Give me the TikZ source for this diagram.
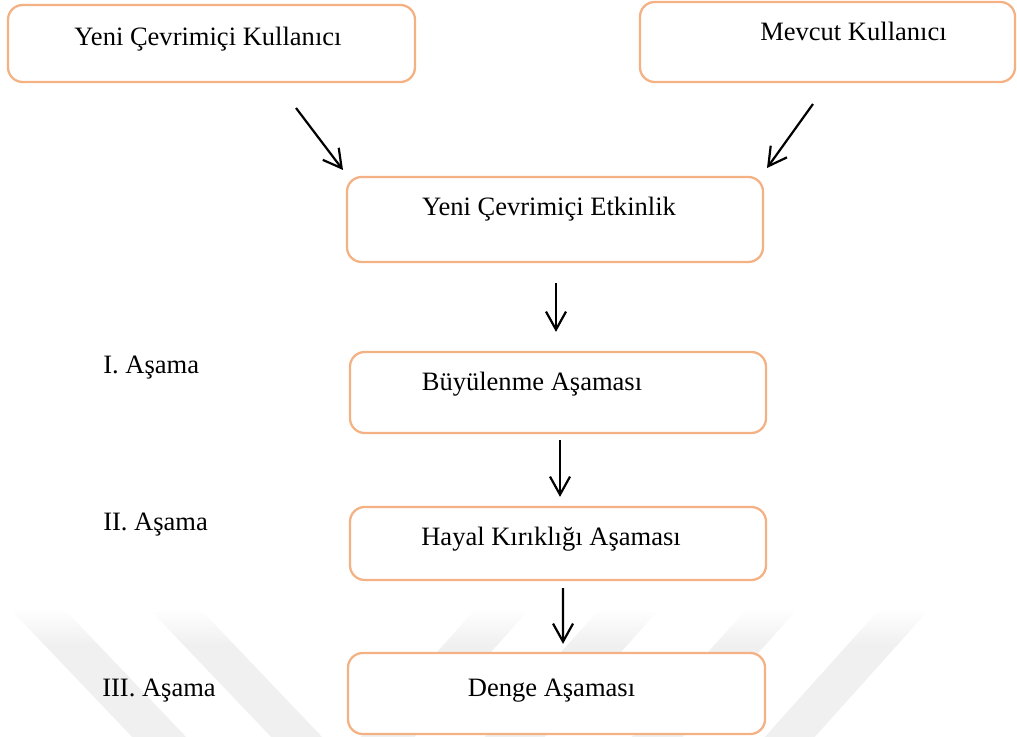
\documentclass[tikz,border=0pt]{standalone}
\usepackage{fontspec}
\setmainfont{Liberation Serif}
\usetikzlibrary{arrows.meta}
\definecolor{boxorange}{RGB}{244,177,131}
\definecolor{wmgray}{RGB}{240,240,240}
\begin{document}
\begin{tikzpicture}[x=0.75pt,y=-0.75pt,
  box/.style={draw=boxorange, line width=1.7pt, rounded corners=11pt, fill=white, inner sep=0pt},
  txt/.style={anchor=base, inner sep=0pt, font=\fontsize{19.9}{24}\selectfont},
  stage/.style={anchor=base west, inner sep=0pt, font=\fontsize{19.9}{24}\selectfont},
  arr/.style={line width=1.65pt, -{Straight Barb[length=13.5pt,width=15pt]}}
]
\useasboundingbox (0,0) rectangle (1017,737);
% watermark
\begin{scope}
\clip (0,0) rectangle (1017,737);
\clip (13,612) -- (67,612) -- (189,740) -- (135,740) -- cycle
      (152,612) -- (203,612) -- (325,740) -- (274,740) -- cycle
      (473,612) -- (527,612) -- (412,740) -- (358,740) -- cycle
      (597,612) -- (657,612) -- (542,740) -- (482,740) -- cycle
      (744,612) -- (795,612) -- (680,740) -- (629,740) -- cycle
      (877,612) -- (927,612) -- (812,740) -- (762,740) -- cycle;
\shade[top color=white, bottom color=wmgray] (0,608) rectangle (1017,645);
\fill[wmgray] (0,644) rectangle (1017,740);
\end{scope}
% boxes
\node[box, minimum width=305.25pt, minimum height=57.75pt] (n1) at (211.5,43.5) {};
\node[box, minimum width=281.25pt, minimum height=60pt] (n2) at (827.5,42) {};
\node[box, minimum width=312pt, minimum height=63.75pt] (n3) at (555,219.5) {};
\node[box, minimum width=312pt, minimum height=60.75pt] (n4) at (558,392.5) {};
\node[box, minimum width=312pt, minimum height=54.75pt] (n5) at (558,543.5) {};
\node[box, minimum width=312.75pt, minimum height=60.75pt] (n6) at (556.5,693.5) {};
% texts
\node[txt] (t1) at (208,45.7) {Yeni Çevrimiçi Kullanıcı};
\node[txt] (t2) at (853.5,40.7) {Mevcut Kullanıcı};
\node[txt] (t3) at (549,216) {Yeni Çevrimiçi Etkinlik};
\node[txt] (t4) at (532,390.7) {Büyülenme Aşaması};
\node[txt] (t5) at (551,545.7) {Hayal Kırıklığı Aşaması};
\node[txt] (t6) at (551.5,696) {Denge Aşaması};
\node[stage] (s1) at (103,374) {I. Aşama};
\node[stage] (s2) at (103,530.7) {II. Aşama};
\node[stage] (s3) at (102,696) {III. Aşama};
% arrows
\coordinate (a1s) at (296,108);
\coordinate (a1e) at (343,170);
\coordinate (a2s) at (813,104);
\coordinate (a2e) at (767,168);
\draw[arr] (a1s) -- (a1e);
\draw[arr] (a2s) -- (a2e);
\draw[arr, shorten <=15pt, shorten >=14.25pt] ([xshift=0.75pt]n3.south) -- ([xshift=-1.5pt]n4.north);
\draw[arr, shorten <=4.5pt, shorten >=6.75pt] ([xshift=1.5pt]n4.south) -- ([xshift=1.5pt]n5.north);
\draw[arr, shorten <=5.25pt, shorten >=6pt] ([xshift=3.75pt]n5.south) -- ([xshift=4.9pt]n6.north);
\end{tikzpicture}
\end{document}
